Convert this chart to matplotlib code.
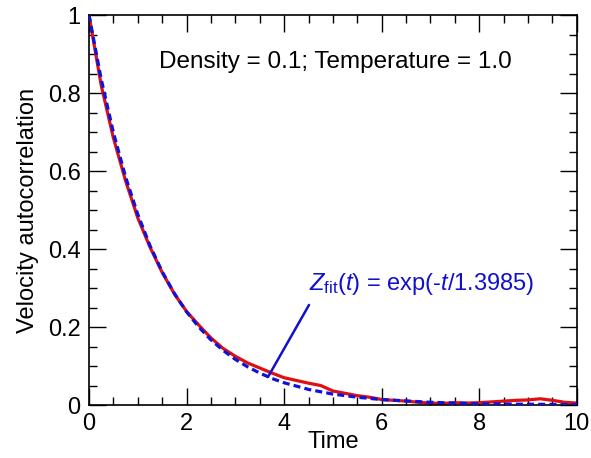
import matplotlib
matplotlib.use('Agg')
import matplotlib.pyplot as plt
from matplotlib.ticker import MultipleLocator

t_data = [0, 0.25, 0.5, 0.75, 1.0, 1.25, 1.5, 1.75, 2.0, 2.25, 2.5, 2.75,
          3.0, 3.25, 3.5, 3.75, 4.0, 4.25, 4.5, 4.75, 5.0, 5.25, 5.5, 5.75,
          6.0, 6.25, 6.5, 6.75, 7.0, 7.25, 7.5, 7.75, 8.0, 8.25, 8.5, 8.75,
          9.0, 9.25, 9.5, 9.75, 10.0]
z_data = [1.0, 0.82, 0.685, 0.575, 0.48, 0.405, 0.34, 0.285, 0.24, 0.205,
          0.172, 0.145, 0.125, 0.108, 0.095, 0.082, 0.070, 0.063, 0.056,
          0.050, 0.036, 0.030, 0.024, 0.020, 0.014, 0.012, 0.010, 0.007,
          0.005, 0.004, 0.006, 0.005, 0.006, 0.008, 0.010, 0.012, 0.013,
          0.016, 0.012, 0.007, 0.005]

# Blue dashed: fitted curve
t_fit = [0, 0.25, 0.5, 0.75, 1.0, 1.25, 1.5, 1.75, 2.0, 2.25, 2.5, 2.75,
         3.0, 3.25, 3.5, 3.75, 4.0, 4.5, 5.0, 5.5, 6.0, 7.0, 8.0, 9.0, 10.0]
z_fit = [1.0, 0.836, 0.699, 0.585, 0.489, 0.409, 0.342, 0.286, 0.239, 0.200,
         0.167, 0.140, 0.117, 0.098, 0.082, 0.068, 0.057, 0.040, 0.028, 0.020,
         0.014, 0.007, 0.003, 0.002, 0.001]

x_ticks = [0, 2, 4, 6, 8, 10]
y_ticks = [0, 0.2, 0.4, 0.6, 0.8, 1.0]
y_ticklabels = ['0', '0.2', '0.4', '0.6', '0.8', '1']

plt.rcParams['font.family'] = ['Liberation Sans', 'DejaVu Sans']
plt.rcParams['mathtext.fontset'] = 'custom'
plt.rcParams['mathtext.rm'] = 'Liberation Sans'
plt.rcParams['mathtext.it'] = 'Liberation Sans:italic'

fig = plt.figure(figsize=(5.91, 4.58), dpi=100)
ax = fig.add_axes([0.1506, 0.1157, 0.8254, 0.8513])

ax.plot(t_data, z_data, color='#dd1111', lw=2.3, zorder=2)
ax.plot(t_fit, z_fit, color='#1111dd', lw=2.3, ls=(0, (2.2, 1.3)), zorder=3)

ax.set_xlim(0, 10)
ax.set_ylim(0, 1)
ax.set_xticks(x_ticks)
ax.set_xticklabels([str(v) for v in x_ticks], fontsize=17)
ax.set_yticks(y_ticks)
ax.set_yticklabels(y_ticklabels, fontsize=17)
ax.xaxis.set_minor_locator(MultipleLocator(0.5))
ax.yaxis.set_minor_locator(MultipleLocator(0.05))
ax.tick_params(which='both', direction='in', top=True, right=True, width=1.0)
ax.tick_params(which='major', length=12)
ax.tick_params(which='minor', length=6)
ax.tick_params(axis='x', which='major', pad=6)
ax.tick_params(axis='y', which='major', pad=6)
for s in ax.spines.values():
    s.set_linewidth(1.2)

ax.set_xlabel('Time', fontsize=17, labelpad=-3)
ax.set_ylabel('Velocity autocorrelation', fontsize=17, labelpad=6)

ax.text(5.06, 0.88, 'Density = 0.1; Temperature = 1.0', fontsize=17.5,
        ha='center', va='center')

ax.annotate(r'$Z_{\mathrm{fit}}(t)$ = exp(-$t$/1.3985)', xy=(3.67, 0.072),
            xytext=(6.82, 0.31), fontsize=17, color='#1111cc',
            ha='center', va='center',
            arrowprops=dict(arrowstyle='-', color='#1111cc', lw=1.8,
                            shrinkA=0, shrinkB=0,
                            relpos=(0.0, -0.3)))

fig.savefig('out.png', dpi=100)
